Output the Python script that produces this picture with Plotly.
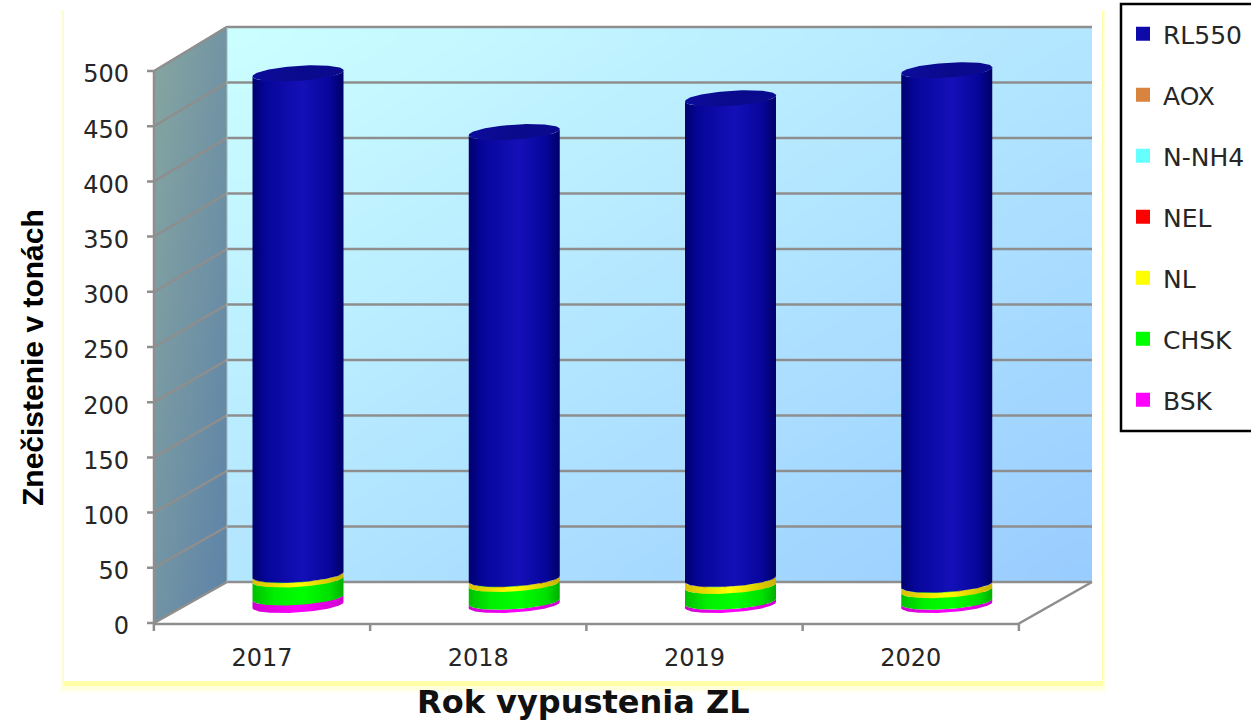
import numpy as np
import plotly.graph_objects as go

# ---------- data (tons) ----------
YEARS = ["2017", "2018", "2019", "2020"]
BSK = [6.8, 3.0, 3.0, 3.0]
CHSK = [16.3, 16.1, 14.3, 10.5]
NL = [4.0, 4.3, 6.0, 4.7]
NEL = [0.1, 0.1, 0.1, 0.1]
N_NH4 = [0.2, 0.2, 0.2, 0.2]
AOX = [0.05, 0.05, 0.05, 0.05]
RL550 = [454.1, 404.6, 435.3, 465.8]
Y_TICKS = [0, 50, 100, 150, 200, 250, 300, 350, 400, 450, 500]

SERIES_NAMES = ["BSK", "CHSK", "NL", "NEL", "N-NH4", "AOX", "RL550"]
SERIES_VALUES = [BSK, CHSK, NL, NEL, N_NH4, AOX, RL550]
LEGEND_COLORS = ["#ff00ff", "#00ff00", "#ffff00", "#ff0000", "#66ffff", "#d8843f", "#0e0aaa"]
SIDE_SCALES = [
    [[0, "#d000d0"], [0.5, "#ff00ff"], [1, "#d000d0"]],
    [[0, "#00c000"], [0.25, "#00f000"], [0.55, "#00ff00"], [0.85, "#00e000"], [1, "#00b000"]],
    [[0, "#d8c000"], [0.5, "#ffff00"], [1, "#c8b000"]],
    [[0, "#d00000"], [0.5, "#ff0000"], [1, "#d00000"]],
    [[0, "#50d0d0"], [0.5, "#66ffff"], [1, "#50d0d0"]],
    [[0, "#b06830"], [0.5, "#d8843f"], [1, "#b06830"]],
    [[0, "#00006e"], [0.15, "#06069a"], [0.55, "#1410b8"], [0.85, "#06069a"], [1, "#000066"]],
]

# ---------- layout geometry (pixels) ----------
W, H = 1251, 720
PL, PR, PT, PB = 146, 1094, 20, 632   # plot area
L, B = 154, 624                       # front corner of the chart box
R = 1092
DX = 216.25            # px per category
K = 1.104              # px per ton
X0_FRONT, Y0_FRONT = 262, 623
X0_BAR, Y0_BAR = 298, 605
FRONT_R = 1018
BACK_L, BACK_B, BACK_T = 227, 582, 27
GRID = "#8e8e8e"


def xd(px):
    return (px - X0_FRONT) / DX


def yd(py):
    return (Y0_FRONT - py) / K


def back_y(v):
    return BACK_B - (BACK_B - BACK_T) * v / 500


def px_x(px):
    return (px - PL) / (PR - PL)


def px_y(py):
    return (PB - py) / (PB - PT)


fig = go.Figure()


def wall(x_px, y_px, colors, nx=24, ny=24):
    xs = np.linspace(x_px[0], x_px[1], nx + 1)
    ys = np.linspace(y_px[0], y_px[1], ny + 1)
    u = (np.arange(nx) + 0.5) / nx
    v = (np.arange(ny) + 0.5) / ny
    z = (u[None, :] + v[:, None]) / 2
    fig.add_trace(go.Heatmap(x=xd(xs), y=yd(ys), z=z, zmin=0, zmax=1, colorscale=colors,
                             zsmooth="best", showscale=False, hoverinfo="skip"))


wall((BACK_L, R), (BACK_T, BACK_B), [[0, "#ccffff"], [1, "#99ccff"]])
wall((L, BACK_L), (BACK_T - 1, B), [[0, "#87a6a0"], [1, "#5c82a8"]])


def segs(xs_px, ys_px, **kw):
    fig.add_trace(go.Scatter(x=[None if p is None else xd(p) for p in xs_px],
                             y=[None if p is None else yd(p) for p in ys_px],
                             showlegend=False, hoverinfo="skip", **kw))


# the wall rectangle is trimmed to its parallelogram
segs([L - 1, BACK_L + 1, L - 1, L - 1], [71.5, BACK_T - 2, BACK_T - 2, 71.5], mode="lines",
     fill="toself", fillcolor="white", line=dict(width=0))
segs([L - 1, BACK_L + 1, BACK_L + 1, L - 1], [B, BACK_B, B, B], mode="lines", fill="toself",
     fillcolor="white", line=dict(width=0))

# gridlines
gx, gy = [], []
for v in Y_TICKS:
    gx += [L - 7, L, BACK_L, R, None]
    py = Y0_FRONT - v * K
    gy += [py, py, back_y(v), back_y(v), None]
segs(gx, gy, mode="lines", line=dict(color=GRID, width=2.5))
# frame and category ticks
segs([BACK_L, BACK_L], [BACK_T, BACK_B], mode="lines", line=dict(color="#a8b8b8", width=1))
segs([L, L, None, L, FRONT_R, R], [71, B, None, B, B, BACK_B], mode="lines",
     line=dict(color=GRID, width=2.5))
tx, ty = [], []
for c in [-0.5, 0.5, 1.5, 2.5, 3.5]:
    px = X0_FRONT + c * DX
    tx += [px, px, None]
    ty += [B, B + 7, None]
segs(tx, ty, mode="lines", line=dict(color=GRID, width=2.5))

# stacked columns
A_X = 45.5 / DX
B_Y = 7.5 / K
TILT = 3.0 / K
x_pos = list(range(len(YEARS)))

for rank, (name, vals, col) in enumerate(zip(SERIES_NAMES, SERIES_VALUES, LEGEND_COLORS)):
    fig.add_trace(go.Bar(x=x_pos, y=vals, name=name, xaxis="x2", yaxis="y2",
                         width=70 / DX, legendgroup=name, legendrank=100 - rank,
                         marker=dict(color=col, line=dict(color=col, width=2)),
                         hoverinfo="y+name"))

t_front = np.linspace(0, np.pi, 60)
t_full = np.linspace(0, 2 * np.pi, 120)
levels = np.cumsum(np.array([[0.0] * 4] + SERIES_VALUES), axis=0)
for i in x_pos:
    xl, xr = i - A_X, i + A_X
    for s, scale in enumerate(SIDE_SCALES):
        lo, hi = levels[s, i], levels[s + 1, i]
        ax = i + A_X * np.cos(t_front)
        lo_y = lo - B_Y * np.sin(t_front) + TILT * np.cos(t_front)
        hi_y = hi - B_Y * np.sin(t_front) + TILT * np.cos(t_front)
        fig.add_trace(go.Scatter(
            x=np.r_[ax, ax[::-1], ax[0]], y=np.r_[lo_y, hi_y[::-1], lo_y[0]],
            xaxis="x2", yaxis="y2", mode="lines", line=dict(width=0), fill="toself",
            fillgradient=dict(type="horizontal", colorscale=scale, start=xl, stop=xr),
            showlegend=False, hoverinfo="skip"))
    top = levels[-1, i]
    fig.add_trace(go.Scatter(
        x=i + A_X * np.cos(t_full),
        y=top - B_Y * np.sin(t_full) + TILT * np.cos(t_full),
        xaxis="x2", yaxis="y2", mode="lines", line=dict(width=0), fill="toself",
        fillgradient=dict(type="horizontal", start=xl, stop=xr,
                          colorscale=[[0, "#0c0c9c"], [0.5, "#0a0a8c"], [1, "#0a0a90"]]),
        showlegend=False, hoverinfo="skip"))


def rect(x0, y0, x1, y1, fill, line=None):
    return dict(type="rect", xref="paper", yref="paper", layer="below",
                x0=px_x(x0), x1=px_x(x1), y0=px_y(y0), y1=px_y(y1),
                fillcolor=fill, line=line or dict(width=0))


shapes = [
    rect(60, 10, 1106, 693, "#fffff4"),
    rect(61, 10, 1105, 690, "#ffffdc"),
    rect(63, 11, 1103, 686, "#ffffa8"),
    rect(64, 5, 1102, 681, "#ffffff"),
    rect(1121, 4, 1262, 431, "#ffffff", dict(color="#000000", width=2.5)),
]

DV = "DejaVu Sans"
fig.update_layout(
    width=W, height=H, margin=dict(l=PL, r=W - PR, t=PT, b=H - PB, autoexpand=False),
    paper_bgcolor="white", plot_bgcolor="rgba(0,0,0,0)",
    barmode="stack", shapes=shapes,
    font=dict(family=DV, color="#262626", size=22),
    xaxis=dict(range=[xd(PL), xd(PR)], tickmode="array", tickvals=x_pos, ticktext=YEARS,
               ticks="", showgrid=False, zeroline=False, showline=False, ticklabelstandoff=9,
               tickfont=dict(family=DV, size=24, color="#262626")),
    yaxis=dict(range=[yd(PB), yd(PT)], tickmode="array", tickvals=Y_TICKS, ticks="",
               showgrid=False, zeroline=False, showline=False, ticklabelstandoff=16,
               ticklabelshift=3,
               tickfont=dict(family=DV, size=24, color="#262626")),
    xaxis2=dict(range=[(PL - X0_BAR) / DX, (PR - X0_BAR) / DX], overlaying="x", visible=False),
    yaxis2=dict(range=[(Y0_BAR - PB) / K, (Y0_BAR - PT) / K], overlaying="y", visible=False),
    legend=dict(x=px_x(1123), y=px_y(11), xanchor="left", yanchor="top", maxheight=700,
                bgcolor="rgba(0,0,0,0)", borderwidth=0, traceorder="grouped",
                tracegroupgap=25.5, font=dict(family=DV, size=25, color="#262626"),
                itemclick=False, itemdoubleclick=False),
    annotations=[
        dict(text="Znečistenie v tonách", xref="paper", yref="paper", x=px_x(32), y=px_y(358),
             xanchor="center", yanchor="middle", textangle=-90, showarrow=False,
             font=dict(family="Liberation Sans", size=30, color="black", weight="bold")),
        dict(text="Rok vypustenia ZL", xref="paper", yref="paper", x=px_x(583), y=px_y(702),
             xanchor="center", yanchor="middle", showarrow=False,
             font=dict(family="DejaVu Sans", size=32, color="#111111", weight="bold")),
    ],
)

fig.write_html("out.html", config={"displayModeBar": False},
               post_script="document.body.style.margin='0';")
